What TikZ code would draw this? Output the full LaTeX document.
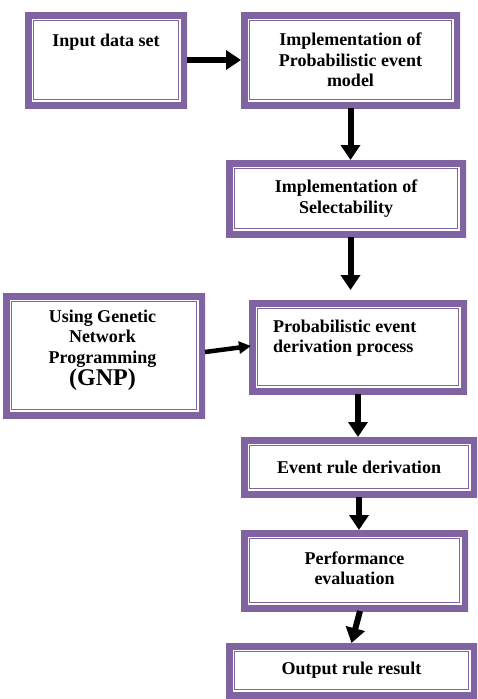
\documentclass[tikz,border=0pt]{standalone}
\usepackage{fontspec}
\setmainfont{Liberation Serif}
\usepackage{tikz}
\usetikzlibrary{calc}
\usetikzlibrary{arrows.meta}
\usetikzlibrary{positioning}
\definecolor{FramePurple}{RGB}{128,100,162}

\begin{document}
\begin{tikzpicture}[
 x=1pt, y=-1pt,
 framebox/.style = {rectangle, inner sep=0pt, outer sep=0pt, fill=white,
                    path picture={
                      \draw [FramePurple, line width=13pt]
                        (path picture bounding box.south west) rectangle (path picture bounding box.north east);
                      \draw [FramePurple, line width=1.3pt]
                        ($(path picture bounding box.south west)+(8.5pt,8.5pt)$) rectangle
                        ($(path picture bounding box.north east)+(-8.5pt,-8.5pt)$);
                    }},
 txt/.style = {font=\bfseries\fontsize{18}{20.5}\selectfont, align=center, inner sep=0pt},
 arr/.style = {-{Triangle[length=15pt,width=19pt]}, line width=6pt},
 thinarr/.style = {-{Triangle[length=12pt,width=12pt]}, line width=4.5pt},
                        ]
    \useasboundingbox (0,0) rectangle (477,699);

    \node [framebox, minimum width=162pt, minimum height=96pt] (input) at (106,60) {};
    \node [txt] at ([yshift=18pt]input) {Input data set};
    \node [framebox, minimum width=219pt, minimum height=96pt, right=54pt of input] (impl) {};
    \node [txt] at (impl) {Implementation of\\Probabilistic event\\model};
    \node [framebox, minimum width=240pt, minimum height=77pt, below=52pt of impl, xshift=-4.5pt] (select) {};
    \node [txt] at (select) {Implementation of\\Selectability};
    \node [framebox, minimum width=218pt, minimum height=94pt, below=63pt of select, xshift=12pt] (deriv) {};
    \node [txt, align=left, anchor=west] at ([xshift=24pt, yshift=9pt]deriv.west) {Probabilistic event\\derivation process};
    \node [framebox, minimum width=202pt, minimum height=125pt, left=44pt of deriv, yshift=-8.5pt] (gnp) {};
    \node [txt] at ([xshift=-1.5pt, yshift=5.5pt]gnp) {Using Genetic\\Network\\Programming\\{\fontsize{24}{26}\selectfont (GNP)}};
    \node [framebox, minimum width=236pt, minimum height=60pt, below=43pt of deriv, xshift=1pt] (rule) {};
    \node [txt] at (rule) {Event rule derivation};
    \node [framebox, minimum width=227pt, minimum height=81pt, below=33pt of rule, xshift=-4.5pt] (perf) {};
    \node [txt] at ([yshift=2pt]perf) {Performance\\evaluation};
    \node [framebox, minimum width=251pt, minimum height=55pt, below=32pt of perf, xshift=-3pt] (output) {};
    \node [txt] at (output) {Output rule result};

    % flow
    \draw [arr] (input) -- (impl);
    \draw [arr] (impl) -- (impl |- select.north);
    \draw [arr] (select.south -| impl) -- ([yshift=10pt]deriv.north -| impl);
    \draw [thinarr] ([yshift=3.5pt]gnp.east) -- ([xshift=2pt, yshift=1pt]deriv.west);
    \draw [arr] (deriv) -- (deriv |- rule.north);
    \draw [arr] (rule) -- (rule |- perf.north);
    \draw [arr] ([xshift=5.5pt]perf.south) -- (output.north);
\end{tikzpicture}
\end{document}
